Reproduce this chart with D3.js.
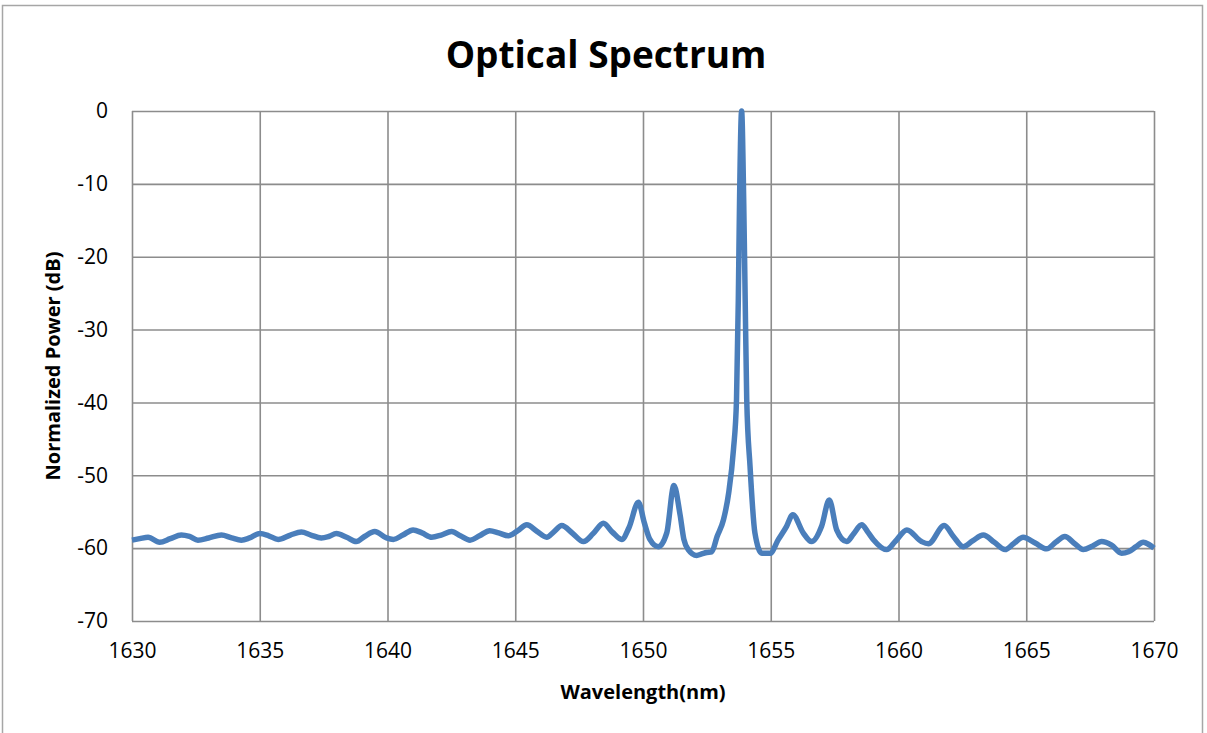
<!DOCTYPE html>
<html>
<head>
<meta charset="utf-8">
<script src="https://cdn.jsdelivr.net/npm/d3@7"></script>
<style>
  body { margin: 0; background: #fff; }
  svg { display: block; }
</style>
</head>
<body>
<svg id="chart" width="1207" height="733"></svg>
<script>
// wavelength (nm) and normalized power (dB)
var wavelength = [
    1630.0, 1630.3, 1630.63, 1631.08, 1631.5, 1631.93, 1632.25, 1632.58, 1633.0, 1633.5,
    1633.9, 1634.28, 1634.6, 1635.0, 1635.35, 1635.72, 1636.2, 1636.63, 1637.0, 1637.41,
    1637.7, 1638.0, 1638.4, 1638.78, 1639.1, 1639.5, 1639.96, 1640.23, 1640.6, 1641.0,
    1641.35, 1641.73, 1642.1, 1642.51, 1642.85, 1643.23, 1643.6, 1644.0, 1644.35, 1644.73,
    1645.1, 1645.45, 1645.85, 1646.23, 1646.5, 1646.82, 1647.25, 1647.67, 1648.05, 1648.45,
    1648.8, 1649.17, 1649.45, 1649.82, 1650.05, 1650.27, 1650.6, 1650.93, 1651.21, 1651.45,
    1651.6, 1651.77, 1652.1, 1652.3, 1652.49, 1652.69, 1652.9, 1653.15, 1653.35, 1653.54,
    1653.66, 1653.73, 1653.78, 1653.86, 1653.94, 1654.0, 1654.06, 1654.19, 1654.38, 1654.65,
    1654.97, 1655.3, 1655.62, 1655.86, 1656.27, 1656.6, 1656.99, 1657.29, 1657.58, 1657.97,
    1658.25, 1658.56, 1658.8, 1659.01, 1659.54, 1659.87, 1660.33, 1660.9, 1661.17, 1661.79,
    1662.15, 1662.53, 1662.9, 1663.32, 1663.75, 1664.17, 1664.5, 1664.88, 1665.35, 1665.8,
    1666.15, 1666.51, 1666.9, 1667.23, 1667.6, 1667.95, 1668.34, 1668.73, 1669.0, 1669.3,
    1669.58, 1669.8, 1670.0
];
var power = [
    -58.9, -58.7, -58.5, -59.2, -58.7, -58.2, -58.4, -58.9, -58.6, -58.2,
    -58.6, -58.9, -58.6, -58.0, -58.3, -58.8, -58.2, -57.8, -58.2, -58.6,
    -58.4, -58.0, -58.5, -59.1, -58.4, -57.7, -58.6, -58.8, -58.2, -57.5,
    -57.9, -58.5, -58.2, -57.7, -58.3, -58.9, -58.3, -57.6, -57.9, -58.3,
    -57.6, -56.8, -57.7, -58.5, -57.8, -56.9, -58.0, -59.1, -58.0, -56.6,
    -57.8, -58.8, -57.2, -53.7, -56.5, -58.8, -59.8, -57.9, -51.4, -55.4,
    -58.8, -60.2, -61.0, -60.8, -60.6, -60.5, -58.4, -56.1, -52.5, -46.5,
    -39.6, -26.0, -12.0, 0.0, -12.0, -26.0, -39.6, -48.8, -57.9, -60.7,
    -60.7, -58.8, -57.0, -55.4, -57.9, -59.1, -57.0, -53.4, -57.5, -59.1,
    -58.0, -56.8, -57.8, -58.8, -60.2, -59.1, -57.5, -59.1, -59.4, -56.9,
    -58.4, -59.8, -59.0, -58.2, -59.2, -60.2, -59.4, -58.5, -59.3, -60.1,
    -59.2, -58.4, -59.4, -60.2, -59.7, -59.1, -59.6, -60.7, -60.5, -59.8,
    -59.2, -59.5, -60.0
];
var xTicks = [1630, 1635, 1640, 1645, 1650, 1655, 1660, 1665, 1670];
var yTicks = [0, -10, -20, -30, -40, -50, -60, -70];

var svg = d3.select("svg#chart");

var margin = { top: 111, left: 132 };
var plotWidth = 1022;
var plotHeight = 510;

// outer chart frame
svg.append("rect")
    .attr("x", 2.5)
    .attr("y", 5.5)
    .attr("width", 1200)
    .attr("height", 760)
    .style("fill", "none")
    .style("stroke", "#a6a6a6")
    .style("stroke-width", 1.5);

var x = d3.scaleLinear().domain([1630, 1670]).range([0, plotWidth]);
var y = d3.scaleLinear().domain([-70, 0]).range([plotHeight, 0]);

var plot = svg.append("g")
    .attr("id", "plot")
    .attr("transform", "translate(" + margin.left + "," + margin.top + ")");

// gridlines (they also make the plot frame)
var xGrid = d3.axisBottom(x).tickValues(xTicks).tickFormat("").tickSize(-plotHeight).tickSizeOuter(0);
var yGrid = d3.axisLeft(y).tickValues(yTicks).tickFormat("").tickSize(-plotWidth).tickSizeOuter(0);

plot.append("g")
    .attr("transform", "translate(0," + plotHeight + ")")
    .call(xGrid)
    .call(function (g) { g.select(".domain").remove(); })
    .selectAll("line").attr("stroke", "#8c8c8c").attr("stroke-width", 1.6);

plot.append("g")
    .call(yGrid)
    .call(function (g) { g.select(".domain").remove(); })
    .selectAll("line").attr("stroke", "#8c8c8c").attr("stroke-width", 1.6);

// tick labels, plain numbers with ascii minus
var plain = function (d) { return String(d); };

var xAxis = d3.axisBottom(x).tickValues(xTicks).tickFormat(plain).tickSize(0).tickPadding(22);
var xGroup = plot.append("g").attr("transform", "translate(0," + plotHeight + ")").call(xAxis);
xGroup.select(".domain").remove();
xGroup.selectAll("text")
    .style("font-family", "'Open Sans', sans-serif")
    .style("font-size", "21px")
    .attr("fill", "#000");

var yAxis = d3.axisLeft(y).tickValues(yTicks).tickFormat(plain).tickSize(0).tickPadding(24);
var yGroup = plot.append("g").call(yAxis);
yGroup.select(".domain").remove();
yGroup.selectAll("text")
    .style("font-family", "'Open Sans', sans-serif")
    .style("font-size", "21px")
    .attr("fill", "#000");

// spectrum line
var line = d3.line()
    .x(function (d) { return x(d[0]); })
    .y(function (d) { return y(d[1]); })
    .curve(d3.curveMonotoneX);

plot.append("path")
    .datum(d3.zip(wavelength, power))
    .attr("d", line)
    .style("fill", "none")
    .style("stroke", "#4a7ebb")
    .style("stroke-width", 5.5)
    .style("stroke-linejoin", "round");

// titles
svg.append("text")
    .attr("x", 606)
    .attr("y", 68)
    .style("text-anchor", "middle")
    .style("font-family", "'Open Sans', sans-serif")
    .style("font-weight", "bold")
    .style("font-size", "37px")
    .text("Optical Spectrum");

svg.append("text")
    .attr("x", 643)
    .attr("y", 699)
    .style("text-anchor", "middle")
    .style("font-family", "'Open Sans', sans-serif")
    .style("font-weight", "bold")
    .style("font-size", "20px")
    .text("Wavelength(nm)");

svg.append("text")
    .attr("transform", "translate(60,366) rotate(-90)")
    .style("text-anchor", "middle")
    .style("font-family", "'Open Sans', sans-serif")
    .style("font-weight", "bold")
    .style("font-size", "20px")
    .text("Normalized Power (dB)");
</script>
</body>
</html>
